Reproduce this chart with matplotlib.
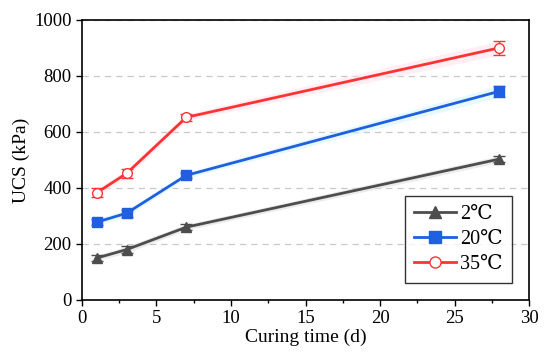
import numpy as np
import matplotlib
matplotlib.use("Agg")
import matplotlib.pyplot as plt
from matplotlib.ticker import MultipleLocator
from matplotlib.lines import Line2D

plt.rcParams["font.family"] = ["Liberation Serif", "DejaVu Serif"]

# donnees
temps = [1, 3, 7, 28]
labels = ["2\u2103", "20\u2103", "35\u2103"]
ucs_2 = [150, 180, 260, 503]
ucs_20 = [278, 310, 445, 745]
ucs_35 = [383, 452, 652, 900]
err_2 = [10, 12, 10, 12]
err_20 = [12, 12, 10, 20]
err_35 = [15, 15, 12, 25]

fig = plt.figure(figsize=(5.5, 3.61), dpi=100)
ax = fig.add_axes([0.149, 0.169, 0.813, 0.776])

series = [
    (ucs_2, err_2, "#4d4d4d", "^", "#4d4d4d", "#d9d9d9"),
    (ucs_20, err_20, "#1f5fe0", "s", "#1f5fe0", "#ccf5ff"),
    (ucs_35, err_35, "#ff3333", "o", "white", "#ffe0ea"),
]
handles = []
for (y, e, c, m, fc, band), lab in zip(series, labels):
    y = np.array(y)
    e = np.array(e)
    ax.fill_between(temps, y - e, y + e, color=band, alpha=0.5, lw=0, zorder=1)
    ax.errorbar(temps, y, yerr=e, color=c, marker=m, markersize=7,
                markerfacecolor=fc, markeredgecolor=c, lw=2, capsize=4,
                elinewidth=1, zorder=3)
    handles.append(Line2D([], [], color=c, marker=m, markersize=8,
                          markerfacecolor=fc, markeredgecolor=c, lw=2, label=lab))

ax.set_xlim(0, 30)
ax.set_ylim(0, 1000)
ax.xaxis.set_major_locator(MultipleLocator(5))
ax.xaxis.set_minor_locator(MultipleLocator(2.5))
ax.yaxis.set_major_locator(MultipleLocator(200))
ax.tick_params(which="both", direction="out", labelsize=13.5, width=1)
ax.tick_params(which="major", length=4)
ax.tick_params(which="minor", length=2.5)
for s in ax.spines.values():
    s.set_linewidth(1.2)
ax.grid(axis="y", which="major", ls=(0, (5, 4)), color="#c8c8c8", lw=0.9, zorder=0)
ax.set_axisbelow(True)

ax.set_xlabel("Curing time (d)", fontsize=14, labelpad=1)
ax.set_ylabel("UCS (kPa)", fontsize=14, labelpad=3)

leg = ax.legend(handles=handles, loc="lower right", fontsize=14.5, frameon=True,
                fancybox=False, edgecolor="black", handlelength=2.1, handletextpad=0.2,
                borderpad=0.45, labelspacing=0.3, borderaxespad=0,
                bbox_to_anchor=(0.962, 0.06))
leg.get_frame().set_linewidth(1.0)

fig.savefig("out.png", dpi=100)
